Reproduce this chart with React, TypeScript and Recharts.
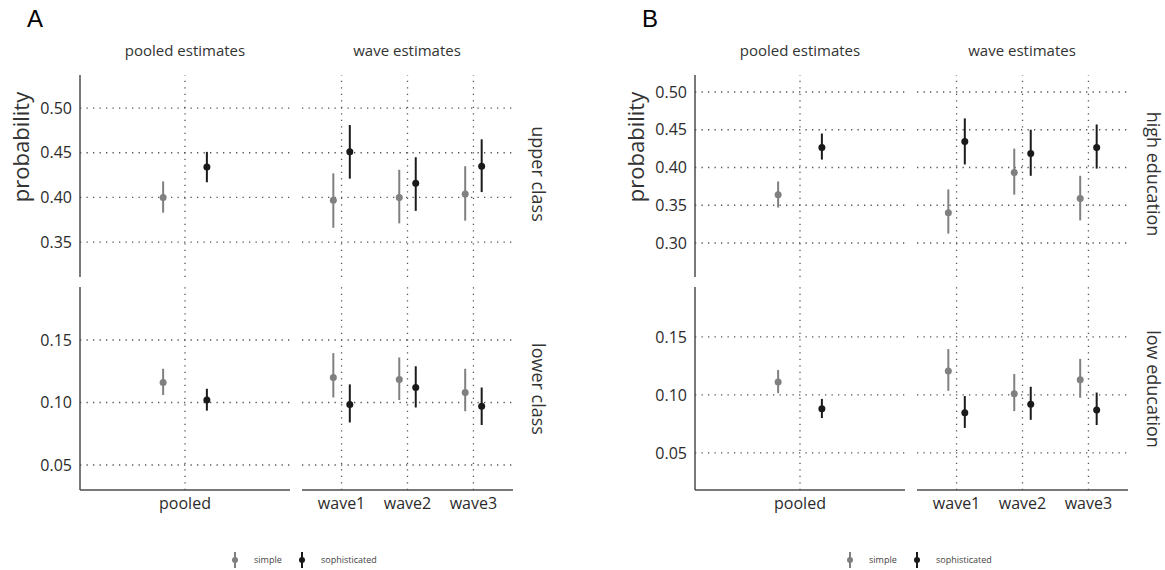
import React from "react"
import { ComposedChart, Scatter, ErrorBar, XAxis, YAxis, ReferenceLine } from "recharts"

// index 0 = pooled, 1..3 = wave1..wave3
const pooledLabels = ["pooled"]
const waveLabels = ["wave1", "wave2", "wave3"]

// panel A: class
const upperSimple = [0.4, 0.397, 0.4, 0.404]
const upperSimpleLo = [0.383, 0.366, 0.371, 0.374]
const upperSimpleHi = [0.418, 0.427, 0.431, 0.435]
const upperSoph = [0.434, 0.451, 0.416, 0.435]
const upperSophLo = [0.417, 0.421, 0.385, 0.406]
const upperSophHi = [0.451, 0.481, 0.445, 0.465]

const lowerSimple = [0.116, 0.12, 0.1185, 0.108]
const lowerSimpleLo = [0.106, 0.104, 0.102, 0.093]
const lowerSimpleHi = [0.127, 0.1395, 0.136, 0.127]
const lowerSoph = [0.102, 0.0985, 0.112, 0.097]
const lowerSophLo = [0.0935, 0.084, 0.096, 0.082]
const lowerSophHi = [0.111, 0.1145, 0.129, 0.112]

// panel B: education
const highSimple = [0.364, 0.34, 0.3935, 0.359]
const highSimpleLo = [0.347, 0.3125, 0.364, 0.33]
const highSimpleHi = [0.3815, 0.371, 0.425, 0.389]
const highSoph = [0.4265, 0.4345, 0.4185, 0.4265]
const highSophLo = [0.4105, 0.404, 0.389, 0.3985]
const highSophHi = [0.445, 0.465, 0.45, 0.457]

const lowSimple = [0.111, 0.1205, 0.101, 0.113]
const lowSimpleLo = [0.1015, 0.1035, 0.086, 0.0975]
const lowSimpleHi = [0.1215, 0.1395, 0.118, 0.131]
const lowSoph = [0.088, 0.0845, 0.092, 0.087]
const lowSophLo = [0.08, 0.0715, 0.0785, 0.074]
const lowSophHi = [0.0965, 0.099, 0.107, 0.102]

const upperTicks = [0.35, 0.4, 0.45, 0.5]
const highTicks = [0.3, 0.35, 0.4, 0.45, 0.5]
const lowerTicks = [0.05, 0.1, 0.15]

const FONT = "'Open Sans', sans-serif"
const GREY = "#808080"
const BLACK = "#1a1a1a"
const DODGE = 0.125

function pts(est: number[], lo: number[], hi: number[], idx: number[], off: number) {
  return idx.map((i, k) => ({
    x: k + 1 + off,
    y: est[i],
    err: [est[i] - lo[i], hi[i] - est[i]],
  }))
}

const dot = (color: string) => (p: any) => <circle cx={p.cx} cy={p.cy} r={3.5} fill={color} />

function Facet(props: any) {
  const { left, top, w, h, idx, labels, domain, ticks, showY, showX, s, d } = props
  const yW = showY ? 60 : 0
  const xH = showX ? 32 : 0
  const xs = idx.map((_: number, k: number) => k + 1)
  const axis = { stroke: "#4d4d4d", strokeWidth: 1.5 }
  return (
    <div style={{ position: "absolute", left: left - yW, top }}>
      <ComposedChart width={w + yW} height={h + xH} margin={{ top: 0, right: 0, bottom: 0, left: 0 }}>
        <XAxis
          type="number"
          dataKey="x"
          domain={[0.4, idx.length + 0.6]}
          ticks={xs}
          tickFormatter={(v) => labels[v - 1]}
          hide={!showX}
          height={xH}
          axisLine={axis}
          tickLine={false}
          tick={{ fill: "#2b2b2b", fontSize: 16, fontFamily: FONT }}
          allowDataOverflow
        />
        <YAxis
          type="number"
          dataKey="y"
          domain={domain}
          ticks={ticks}
          hide={!showY}
          width={yW}
          axisLine={axis}
          tickLine={false}
          tickFormatter={(v) => v.toFixed(2)}
          tick={{ fill: "#2b2b2b", fontSize: 16, fontFamily: FONT }}
          allowDataOverflow
        />
        {ticks.map((t: number) => (
          <ReferenceLine key={"h" + t} y={t} stroke="#555" strokeWidth={1.3} strokeDasharray="1.3 5.2" />
        ))}
        {xs.map((t: number) => (
          <ReferenceLine key={"v" + t} x={t} stroke="#555" strokeWidth={1.3} strokeDasharray="1.3 5.2" />
        ))}
        <Scatter data={pts(s[0], s[1], s[2], idx, -DODGE)} isAnimationActive={false} shape={dot(GREY)}>
          <ErrorBar dataKey="err" direction="y" width={0} stroke={GREY} strokeWidth={2} isAnimationActive={false} />
        </Scatter>
        <Scatter data={pts(d[0], d[1], d[2], idx, DODGE)} isAnimationActive={false} shape={dot(BLACK)}>
          <ErrorBar dataKey="err" direction="y" width={0} stroke={BLACK} strokeWidth={2} isAnimationActive={false} />
        </Scatter>
      </ComposedChart>
    </div>
  )
}

function Label({ x, y, text, size, rotate = 0, family = FONT }: any) {
  return (
    <div
      style={{
        position: "absolute",
        left: x,
        top: y,
        transform: `translate(-50%, -50%) rotate(${rotate}deg)`,
        whiteSpace: "nowrap",
        fontSize: size,
        fontFamily: family,
        color: "#333",
        lineHeight: 1,
      }}
    >
      {text}
    </div>
  )
}

function Legend({ x }: { x: number }) {
  const item = (cx: number, color: string, text: string) => (
    <>
      <svg style={{ position: "absolute", left: cx - 4, top: 551 }} width={8} height={18}>
        <line x1={4} x2={4} y1={1} y2={17} stroke={color} strokeWidth={2} />
        <circle cx={4} cy={9} r={3} fill={color} />
      </svg>
      <div style={{ position: "absolute", left: cx + 19, top: 554, fontSize: 9, fontFamily: FONT, color: "#444", lineHeight: "12px" }}>
        {text}
      </div>
    </>
  )
  return (
    <>
      {item(x, GREY, "simple")}
      {item(x + 67, BLACK, "sophisticated")}
    </>
  )
}

function Panel(props: any) {
  const { ox, letter, rowTop, rowBottom, upper, lower, upperDomain, lowerDomain, upperT } = props
  const pl = ox + 80
  const wl = ox + 302
  return (
    <>
      <div style={{ position: "absolute", left: ox + 27, top: 5, fontSize: 24, fontFamily: "'Liberation Sans', Arial, sans-serif", color: "#000" }}>
        {letter}
      </div>
      <Label x={pl + 105} y={50} text="pooled estimates" size={15} />
      <Label x={wl + 105} y={50} text="wave estimates" size={15} />
      <Label x={ox + 20} y={147} text="probability" size={22} rotate={-90} />
      <Label x={ox + 539} y={174} text={rowTop} size={18} rotate={90} />
      <Label x={ox + 539} y={389} text={rowBottom} size={18} rotate={90} />
      <Facet left={pl} top={75} w={210} h={202} idx={[0]} labels={pooledLabels} domain={upperDomain} ticks={upperT} showY showX={false} s={upper[0]} d={upper[1]} />
      <Facet left={wl} top={75} w={211} h={202} idx={[1, 2, 3]} labels={waveLabels} domain={upperDomain} ticks={upperT} showY={false} showX={false} s={upper[0]} d={upper[1]} />
      <Facet left={pl} top={287} w={210} h={203} idx={[0]} labels={pooledLabels} domain={lowerDomain} ticks={lowerTicks} showY showX s={lower[0]} d={lower[1]} />
      <Facet left={wl} top={287} w={211} h={203} idx={[1, 2, 3]} labels={waveLabels} domain={lowerDomain} ticks={lowerTicks} showY={false} showX s={lower[0]} d={lower[1]} />
      <Legend x={ox + 235} />
    </>
  )
}

export default function App() {
  return (
    <div style={{ position: "relative", width: 1165, height: 570, background: "#fff", overflow: "hidden" }}>
      <style>{"body{margin:0}"}</style>
      <Panel
        ox={0}
        letter="A"
        rowTop="upper class"
        rowBottom="lower class"
        upper={[[upperSimple, upperSimpleLo, upperSimpleHi], [upperSoph, upperSophLo, upperSophHi]]}
        lower={[[lowerSimple, lowerSimpleLo, lowerSimpleHi], [lowerSoph, lowerSophLo, lowerSophHi]]}
        upperDomain={[0.311, 0.537]}
        lowerDomain={[0.03, 0.1924]}
        upperT={upperTicks}
      />
      <Panel
        ox={615}
        letter="B"
        rowTop="high education"
        rowBottom="low education"
        upper={[[highSimple, highSimpleLo, highSimpleHi], [highSoph, highSophLo, highSophHi]]}
        lower={[[lowSimple, lowSimpleLo, lowSimpleHi], [lowSoph, lowSophLo, lowSophHi]]}
        upperDomain={[0.255, 0.5225]}
        lowerDomain={[0.018, 0.193]}
        upperT={highTicks}
      />
    </div>
  )
}
